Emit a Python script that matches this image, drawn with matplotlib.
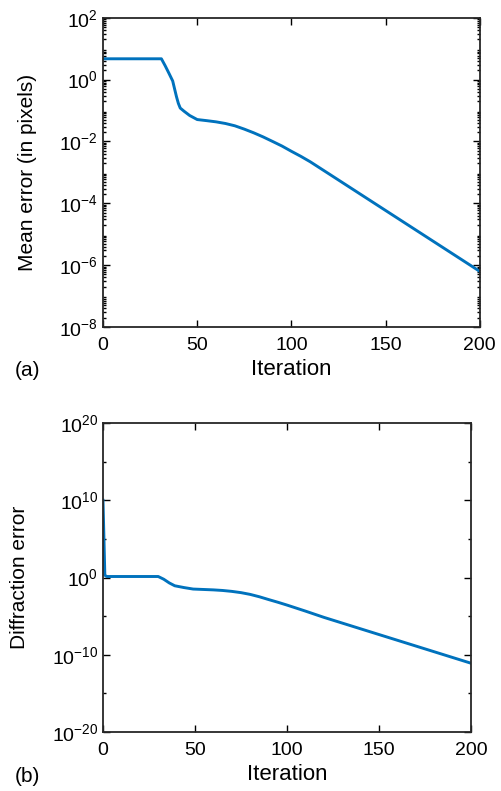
import numpy as np
import matplotlib
matplotlib.use("Agg")
import matplotlib.pyplot as plt
from matplotlib.ticker import FixedLocator, FuncFormatter, LogLocator, NullFormatter

plt.rcParams['font.family'] = ['Liberation Sans', 'DejaVu Sans']
plt.rcParams['mathtext.fontset'] = 'custom'
plt.rcParams['mathtext.rm'] = 'Liberation Sans'
plt.rcParams['mathtext.default'] = 'regular'

# (a) mean error
iter_a = [0, 31, 33, 35, 37, 38, 39, 40, 41, 43, 46, 50, 55, 60, 65, 70, 75, 80,
          85, 90, 95, 100, 105, 110, 120, 200]
err_a = [4.7, 4.7, 2.8, 1.6, 0.9, 0.5, 0.28, 0.17, 0.12, 0.095, 0.069, 0.051,
         0.047, 0.043, 0.038, 0.032, 0.025, 0.019, 0.014, 0.01, 7.1e-3, 4.8e-3,
         3.3e-3, 2.2e-3, 8.9e-4, 6.3e-7]

# (b) diffraction error
iter_b = [0, 1, 2, 30, 33, 36, 39, 44, 49, 55, 60, 65, 70, 75, 80, 85, 90, 95,
          100, 110, 120, 200]
err_b = [1e10, 2.0, 1.35, 1.35, 0.6, 0.2, 0.085, 0.05, 0.032, 0.028, 0.025,
         0.021, 0.016, 0.011, 6.5e-3, 3.2e-3, 1.4e-3, 6.3e-4, 2.7e-4, 4.5e-5,
         7e-6, 8e-12]

xticks = [0, 50, 100, 150, 200]
yticks_a = [1e-8, 1e-6, 1e-4, 1e-2, 1e0, 1e2]
yticks_b = [1e-20, 1e-10, 1e0, 1e10, 1e20]

blue = '#0072BD'
edge = '#262626'


def pow_fmt(v, pos):
    return r'10$^{%d}$' % int(round(np.log10(v)))


def style(ax):
    ax.set_xlim(0, 200)
    ax.set_xticks(xticks)
    ax.tick_params(which='both', direction='in', top=True, right=True,
                   labelsize=14, colors='black', width=1.0)
    ax.tick_params(axis='x', which='major', pad=7.5)
    ax.tick_params(which='major', length=5)
    ax.tick_params(which='minor', length=2.5)
    for s in ax.spines.values():
        s.set_color(edge)
        s.set_linewidth(1.3)
    ax.set_xlabel('Iteration', fontsize=16, labelpad=3)


fig = plt.figure(figsize=(5.01, 7.91), dpi=100)

ax1 = fig.add_axes([0.2056, 0.5866, 0.752, 0.391])
ax1.semilogy(iter_a, err_a, color=blue, lw=2.1)
ax1.set_ylim(1e-8, 1e2)
ax1.yaxis.set_major_locator(FixedLocator(yticks_a))
ax1.yaxis.set_major_formatter(FuncFormatter(pow_fmt))
ax1.yaxis.set_minor_locator(LogLocator(base=10, subs=np.arange(2, 10), numticks=20))
ax1.yaxis.set_minor_formatter(NullFormatter())
style(ax1)
ax1.set_ylabel('Mean error (in pixels)', fontsize=15, labelpad=16)

ax2 = fig.add_axes([0.2056, 0.0746, 0.7345, 0.3906])
ax2.semilogy(iter_b, err_b, color=blue, lw=2.1)
ax2.set_ylim(1e-20, 1e20)
ax2.yaxis.set_major_locator(FixedLocator(yticks_b))
ax2.yaxis.set_major_formatter(FuncFormatter(pow_fmt))
ax2.yaxis.set_minor_locator(FixedLocator([1e-15, 1e-5, 1e5, 1e15]))
ax2.yaxis.set_minor_formatter(NullFormatter())
style(ax2)
ax2.set_ylabel('Diffraction error', fontsize=15, labelpad=16)

fig.text(0.03, 0.532, '(a)', fontsize=15, va='center', ha='left')
fig.text(0.03, 0.0177, '(b)', fontsize=15, va='center', ha='left')

fig.savefig('out.png', dpi=100, facecolor='white')
